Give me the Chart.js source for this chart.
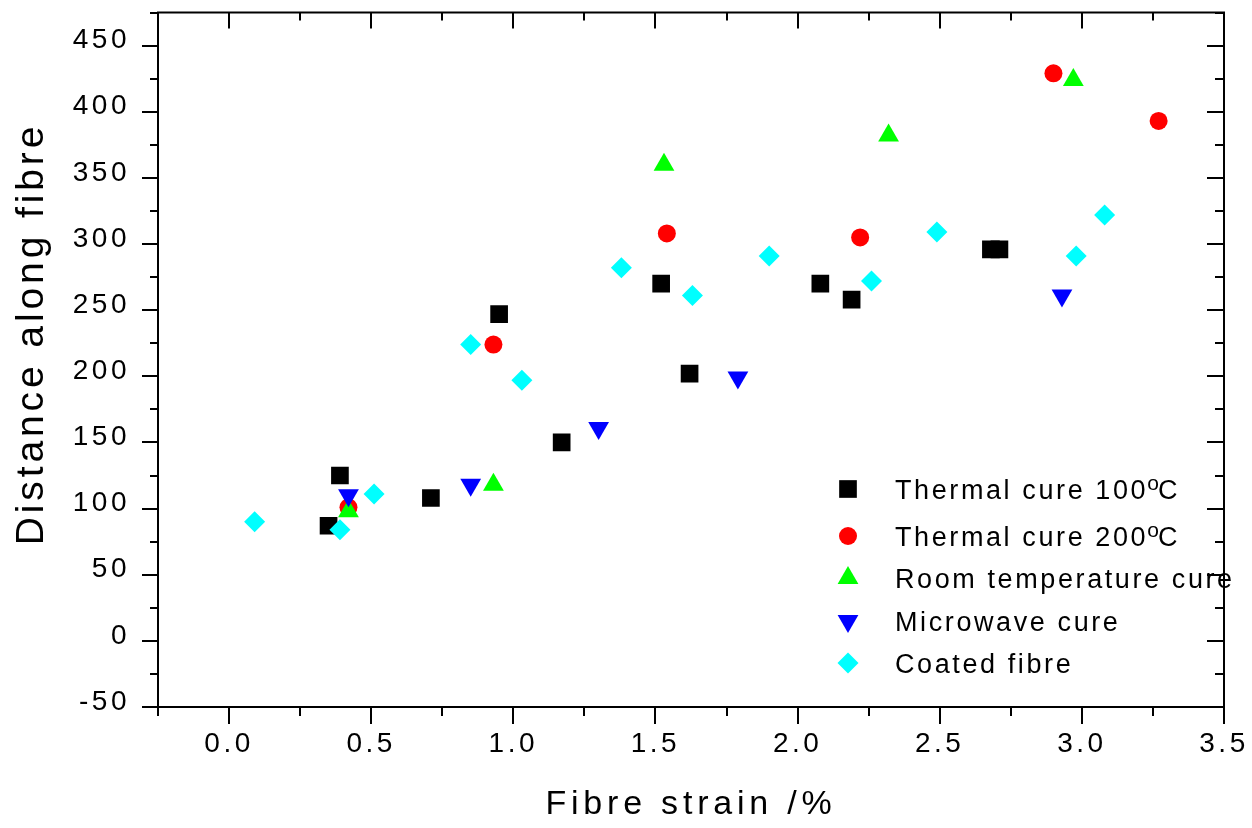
<!DOCTYPE html>
<html>
<head>
<meta charset="utf-8">
<title>Distance along fibre vs fibre strain</title>
<script src="https://cdn.jsdelivr.net/npm/chart.js@4.4.0/dist/chart.umd.min.js"></script>
<style>
  html, body { margin: 0; padding: 0; background: #fff; }
  #wrap { width: 1252px; height: 828px; }
</style>
</head>
<body>
<div id="wrap"><canvas id="strainChart" width="1252" height="828"></canvas></div>
<script>
// Distance along fibre against fibre strain, one scatter series per cure type

const thermal100X = [0.35, 0.39, 0.71, 0.95, 1.17, 1.52, 1.62, 2.08, 2.19, 2.68, 2.71];
const thermal100Y = [87, 125, 108, 247, 150, 270, 202, 270, 258, 296, 296];

const thermal200X = [0.42, 0.93, 1.54, 2.22, 2.90, 3.27];
const thermal200Y = [101, 224, 308, 305, 429, 393];

const roomTempX = [0.42, 0.93, 1.53, 2.32, 2.97];
const roomTempY = [98, 118, 360, 382, 424];

const microwaveX = [0.42, 0.85, 1.30, 1.79, 2.93];
const microwaveY = [110, 118, 161, 199, 261];

const coatedX = [0.09, 0.39, 0.51, 0.85, 1.03, 1.38, 1.63, 1.90, 2.26, 2.49, 2.98, 3.08];
const coatedY = [90, 84, 111, 224, 197, 282, 261, 291, 272, 309, 291, 322];

const seriesNames = [
    "Thermal cure 100°C",
    "Thermal cure 200°C",
    "Room temperature cure",
    "Microwave cure",
    "Coated fibre"
];

// axis ticks (major ones carry labels)
const xMajor = [0, 0.5, 1.0, 1.5, 2.0, 2.5, 3.0, 3.5];
const xMinor = [-0.25, 0.25, 0.75, 1.25, 1.75, 2.25, 2.75, 3.25];
const yMajor = [-50, 0, 50, 100, 150, 200, 250, 300, 350, 400, 450];
const yMinor = [-25, 25, 75, 125, 175, 225, 275, 325, 375, 425, 475];

const xTitle = "Fibre strain /%";
const yTitle = "Distance along fibre";

const FONT = "'Liberation Sans', Arial, Helvetica, sans-serif";

// marker look for each series, same order as seriesNames
const markers = [
    { color: "#000000", style: "rect", radius: 12.5, rotation: 0 },
    { color: "#ff0000", style: "circle", radius: 9, rotation: 0 },
    { color: "#00ff00", style: "triangle", radius: 12, rotation: 0 },
    { color: "#0000ff", style: "triangle", radius: 12, rotation: 180 },
    { color: "#00ffff", style: "rectRot", radius: 10.5, rotation: 0 }
];

const seriesX = [thermal100X, thermal200X, roomTempX, microwaveX, coatedX];
const seriesY = [thermal100Y, thermal200Y, roomTempY, microwaveY, coatedY];


function toPoints(xs, ys) {
    return xs.map((x, i) => ({ x: x, y: ys[i] }));
}


// letter spacing for the library-drawn tick labels
const spacedText = {
    id: "spacedText",
    beforeDraw(chart) {
        chart.ctx.letterSpacing = "3.5px";
    }
};


// boxed frame with outward ticks on bottom/left and inward on top/right
const axisFrame = {
    id: "axisFrame",
    afterDatasetsDraw(chart) {
        const { ctx, chartArea: a, scales } = chart;
        const x = scales.x;
        const y = scales.y;

        ctx.save();
        ctx.strokeStyle = "#000";
        ctx.lineWidth = 2;
        ctx.strokeRect(a.left, a.top, a.right - a.left, a.bottom - a.top);

        ctx.beginPath();
        const xTicks = (vals, down, up) => {
            vals.forEach(v => {
                const px = Math.round(x.getPixelForValue(v));
                ctx.moveTo(px, a.bottom);
                ctx.lineTo(px, a.bottom + down);
                ctx.moveTo(px, a.top);
                ctx.lineTo(px, a.top + up);
            });
        };
        const yTicks = (vals, out, inner) => {
            vals.forEach(v => {
                const py = Math.round(y.getPixelForValue(v));
                ctx.moveTo(a.left, py);
                ctx.lineTo(a.left - out, py);
                ctx.moveTo(a.right, py);
                ctx.lineTo(a.right - inner, py);
            });
        };
        xTicks(xMajor, 17, 16);
        xTicks(xMinor, 9, 8);
        yTicks(yMajor, 16, 17);
        yTicks(yMinor, 8, 9);
        ctx.stroke();
        ctx.restore();
    }
};


// axis titles and the in-plot legend
const labelsAndLegend = {
    id: "labelsAndLegend",
    afterDraw(chart) {
        const ctx = chart.ctx;
        ctx.save();
        ctx.fillStyle = "#000";
        ctx.textBaseline = "alphabetic";

        // x title
        ctx.font = "34px " + FONT;
        ctx.letterSpacing = "4.8px";
        ctx.textAlign = "center";
        ctx.fillText(xTitle, 691, 814);

        // y title, rotated
        ctx.save();
        ctx.translate(43, 334);
        ctx.rotate(-Math.PI / 2);
        ctx.font = "39px " + FONT;
        ctx.letterSpacing = "3.9px";
        ctx.fillText(yTitle, 0, 0);
        ctx.restore();

        // legend
        const rows = [489, 536, 578, 621, 663];
        const symbolX = 848;
        const textX = 895;
        ctx.textAlign = "left";
        seriesNames.forEach((name, i) => {
            const m = markers[i];
            ctx.fillStyle = m.color;
            Chart.helpers.drawPoint(ctx, {
                pointStyle: m.style,
                radius: m.radius,
                rotation: m.rotation,
                borderWidth: 0
            }, symbolX, rows[i]);

            ctx.fillStyle = "#000";
            ctx.font = "27px " + FONT;
            ctx.letterSpacing = "2.6px";
            const baseline = rows[i] + 10;
            const parts = name.split("°");
            ctx.fillText(parts[0], textX, baseline);
            if (parts.length > 1) {
                let cx = textX + ctx.measureText(parts[0]).width;
                ctx.save();
                ctx.font = "21px " + FONT;
                ctx.letterSpacing = "0px";
                ctx.fillText("o", cx - 1, baseline - 9.5);
                cx += ctx.measureText("o").width - 2;
                ctx.restore();
                ctx.letterSpacing = "0px";
                ctx.fillText(parts[1], cx, baseline);
            }
        });
        ctx.restore();
    }
};


const datasets = seriesNames.map((name, i) => ({
    label: name,
    data: toPoints(seriesX[i], seriesY[i]),
    pointStyle: markers[i].style,
    pointRadius: markers[i].radius,
    pointRotation: markers[i].rotation,
    pointBackgroundColor: markers[i].color,
    pointBorderWidth: 0,
    showLine: false,
    order: seriesNames.length - i
}));


Chart.defaults.color = "#000";

new Chart(document.getElementById("strainChart"), {
    type: "scatter",
    data: { datasets: datasets },
    plugins: [spacedText, axisFrame, labelsAndLegend],
    options: {
        responsive: false,
        devicePixelRatio: 1,
        animation: false,
        events: [],
        layout: {
            padding: { top: 12, right: 28, left: 0, bottom: 0 }
        },
        plugins: {
            legend: { display: false },
            tooltip: { enabled: false }
        },
        scales: {
            x: {
                type: "linear",
                min: -0.25,
                max: 3.5,
                grid: { display: false, drawTicks: false },
                border: { display: false },
                afterBuildTicks: scale => {
                    scale.ticks = xMajor.map(v => ({ value: v }));
                },
                afterFit: scale => {
                    scale.height = 121;
                    scale.paddingLeft = 0;
                    scale.paddingRight = 0;
                },
                ticks: {
                    padding: 20,
                    maxRotation: 0,
                    autoSkip: false,
                    font: { family: FONT, size: 28 },
                    callback: v => Number(v).toFixed(1)
                }
            },
            y: {
                type: "linear",
                min: -50,
                max: 475,
                grid: { display: false, drawTicks: false },
                border: { display: false },
                afterBuildTicks: scale => {
                    scale.ticks = yMajor.map(v => ({ value: v }));
                },
                afterFit: scale => {
                    scale.width = 158;
                    scale.paddingTop = 0;
                    scale.paddingBottom = 0;
                },
                ticks: {
                    padding: 28,
                    labelOffset: -5,
                    autoSkip: false,
                    font: { family: FONT, size: 28 },
                    callback: v => String(v)
                }
            }
        }
    }
});
</script>
</body>
</html>
